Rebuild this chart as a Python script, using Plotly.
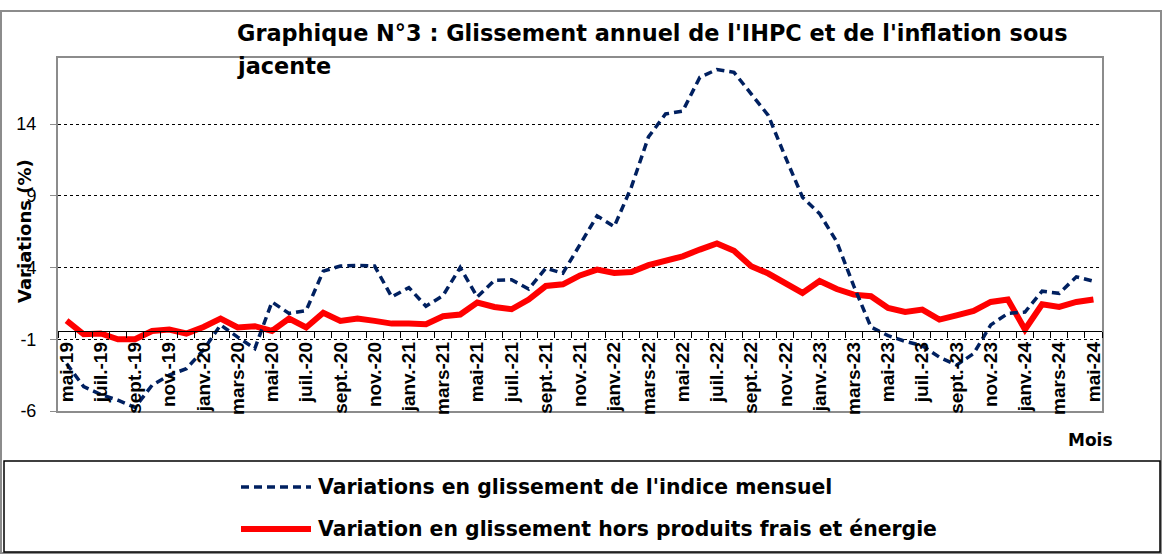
import plotly.graph_objects as go

months = ["mai-19", "juin-19", "juil.-19", "août-19", "sept.-19", "oct.-19", "nov.-19", "déc.-19",
          "janv.-20", "févr.-20", "mars-20", "avr.-20", "mai-20", "juin-20", "juil.-20", "août-20",
          "sept.-20", "oct.-20", "nov.-20", "déc.-20",
          "janv.-21", "févr.-21", "mars-21", "avr.-21", "mai-21", "juin-21", "juil.-21", "août-21",
          "sept.-21", "oct.-21", "nov.-21", "déc.-21",
          "janv.-22", "févr.-22", "mars-22", "avr.-22", "mai-22", "juin-22", "juil.-22", "août-22",
          "sept.-22", "oct.-22", "nov.-22", "déc.-22",
          "janv.-23", "févr.-23", "mars-23", "avr.-23", "mai-23", "juin-23", "juil.-23", "août-23",
          "sept.-23", "oct.-23", "nov.-23", "déc.-23",
          "janv.-24", "févr.-24", "mars-24", "avr.-24", "mai-24"]

ihpc = [-2.7, -4.3, -4.85, -5.25, -5.75, -4.2, -3.5, -3.05, -1.75, 0.0, -0.85, -1.65,
        1.6, 0.8, 1.0, 3.75, 4.1, 4.15, 4.1, 1.95, 2.6, 1.3, 2.05, 4.0,
        1.95, 3.1, 3.15, 2.5, 3.95, 3.6, 5.6, 7.6, 6.85, 9.6, 13.1, 14.7,
        14.9, 17.25, 17.8, 17.6, 16.1, 14.6, 11.7, 8.9, 7.75, 5.8, 2.7, -0.15,
        -0.75, -1.15, -1.45, -2.25, -2.8, -2.0, 0.0, 0.8, 0.9, 2.35, 2.2, 3.35, 3.05]

core = [0.3, -0.65, -0.6, -1.0, -1.0, -0.42, -0.32, -0.6, -0.15, 0.44, -0.18, -0.09,
        -0.42, 0.44, -0.18, 0.85, 0.28, 0.44, 0.28, 0.09, 0.09, 0.05, 0.6, 0.72,
        1.56, 1.25, 1.09, 1.77, 2.71, 2.83, 3.45, 3.85, 3.62, 3.69, 4.16, 4.5,
        4.78, 5.25, 5.67, 5.16, 4.09, 3.58, 2.92, 2.23, 3.06, 2.5, 2.11, 2.0,
        1.18, 0.9, 1.07, 0.37, 0.67, 0.97, 1.6, 1.77, -0.32, 1.44, 1.25, 1.6, 1.77]

y_ticks = [-6, -1, 4, 9, 14]
y_ticktext = ["-6", "-1", "4", "9", "14"]
y_min, y_max = -6, 18.6
x_cross = -0.44

title_l1 = "Graphique N°3 : Glissement annuel de l'IHPC et de l'inflation sous"
title_l2 = "jacente"
name_ihpc = "Variations en glissement de l'indice mensuel"
name_core = "Variation en glissement hors produits frais et énergie"

FONT = "Liberation Sans, Arial, sans-serif"
WIDE = "DejaVu Sans, Verdana, sans-serif"
NAVY = "#002060"
RED = "#FF0000"
GRAY = "#8C8C8C"

W, H = 1162, 554
L, R, T, B = 58, 1102, 58, 411


def px(xp):
    return (xp - L) / (R - L)


def py(yp):
    return (B - yp) / (B - T)


xs = list(range(len(months)))
n = len(months)

fig = go.Figure()
fig.add_trace(go.Scatter(x=xs, y=core, mode="lines", name=name_core,
                         line=dict(color=RED, width=6), showlegend=False))
fig.add_trace(go.Scatter(x=xs, y=ihpc, mode="lines", name=name_ihpc,
                         line=dict(color=NAVY, width=3.5, dash="8px,5px"), showlegend=False))

pos = (x_cross - y_min) / (y_max - y_min)

fig.update_layout(
    width=W, height=H,
    margin=dict(l=L, r=W - R, t=T, b=H - B, autoexpand=False),
    paper_bgcolor="white", plot_bgcolor="white",
    font=dict(family=FONT, color="black"),
    xaxis=dict(range=[-0.5, n - 0.5], showticklabels=False, ticks="", showgrid=False,
               zeroline=False, showline=True, linecolor=GRAY, linewidth=2, mirror=True,
               automargin=False),
    xaxis2=dict(overlaying="x", anchor="free", position=pos, side="bottom",
                range=[-0.5, n - 0.5], tickmode="array",
                tickvals=[i - 0.5 for i in range(n + 1)], showticklabels=False,
                ticks="outside", ticklen=6, tickwidth=1, tickcolor="black",
                showline=True, linecolor="black", linewidth=1, showgrid=False,
                zeroline=False, automargin=False),
    xaxis3=dict(overlaying="x", anchor="free", position=pos, side="bottom",
                range=[-0.5, n - 0.5], tickmode="array",
                tickvals=xs[::2], ticktext=months[::2], tickangle=-90,
                ticks="", showline=False, showgrid=False, zeroline=False,
                tickfont=dict(family=FONT, size=19, color="black", weight="bold"),
                ticklabelstandoff=6, automargin=False),
    yaxis=dict(range=[y_min, y_max], tickmode="array", tickvals=y_ticks, ticktext=y_ticktext,
               showgrid=True, gridcolor="black", gridwidth=1, griddash="dot",
               zeroline=False, showline=True, linecolor=GRAY, linewidth=2, mirror=True,
               ticks="outside", ticklen=6, tickcolor=GRAY, tickwidth=1,
               tickfont=dict(family=FONT, size=18, color="black"),
               ticklabelstandoff=10, automargin=False),
)

fig.add_trace(go.Scatter(x=[None], y=[None], xaxis="x2", showlegend=False, hoverinfo="skip"))
fig.add_trace(go.Scatter(x=[None], y=[None], xaxis="x3", showlegend=False, hoverinfo="skip"))

shapes = []
shapes.append(dict(type="rect", xref="paper", yref="paper", x0=px(1), x1=px(1161),
                   y0=py(553), y1=py(11), line=dict(color=GRAY, width=2), layer="below"))
shapes.append(dict(type="rect", xref="paper", yref="paper", x0=px(4), x1=px(1160),
                   y0=py(552), y1=py(461), line=dict(color="black", width=1.5),
                   fillcolor="white"))
shapes.append(dict(type="line", xref="paper", yref="paper", x0=px(241), x1=px(311),
                   y0=py(487), y1=py(487), line=dict(color=NAVY, width=3.5, dash="8px,5px")))
shapes.append(dict(type="line", xref="paper", yref="paper", x0=px(241), x1=px(311),
                   y0=py(529), y1=py(529), line=dict(color=RED, width=6)))
fig.update_layout(shapes=shapes)

ann = []
ann.append(dict(text=f"<b>{title_l1}</b>", xref="paper", yref="paper", x=px(235), y=py(33),
                xanchor="left", yanchor="middle", showarrow=False,
                font=dict(family=WIDE, size=22.4, color="black")))
ann.append(dict(text=f"<b>{title_l2}</b>", xref="paper", yref="paper", x=px(235), y=py(66),
                xanchor="left", yanchor="middle", showarrow=False,
                font=dict(family=WIDE, size=22.4, color="black")))
ann.append(dict(text="<b>Variations (%)</b>", xref="paper", yref="paper", x=px(24), y=py(231),
                xanchor="center", yanchor="middle", textangle=-90, showarrow=False,
                font=dict(family=WIDE, size=18, color="black")))
ann.append(dict(text="<b>Mois</b>", xref="paper", yref="paper", x=px(1090), y=py(440),
                xanchor="center", yanchor="middle", showarrow=False,
                font=dict(family=WIDE, size=17, color="black")))
ann.append(dict(text=f"<b>{name_ihpc}</b>", xref="paper", yref="paper", x=px(316), y=py(487),
                xanchor="left", yanchor="middle", showarrow=False,
                font=dict(family=WIDE, size=20.4, color="black")))
ann.append(dict(text=f"<b>{name_core}</b>", xref="paper", yref="paper", x=px(316), y=py(529),
                xanchor="left", yanchor="middle", showarrow=False,
                font=dict(family=WIDE, size=20.4, color="black")))
fig.update_layout(annotations=ann)

fig.write_html("out.html", config={"displayModeBar": False},
               post_script="document.body.style.margin='0';")
